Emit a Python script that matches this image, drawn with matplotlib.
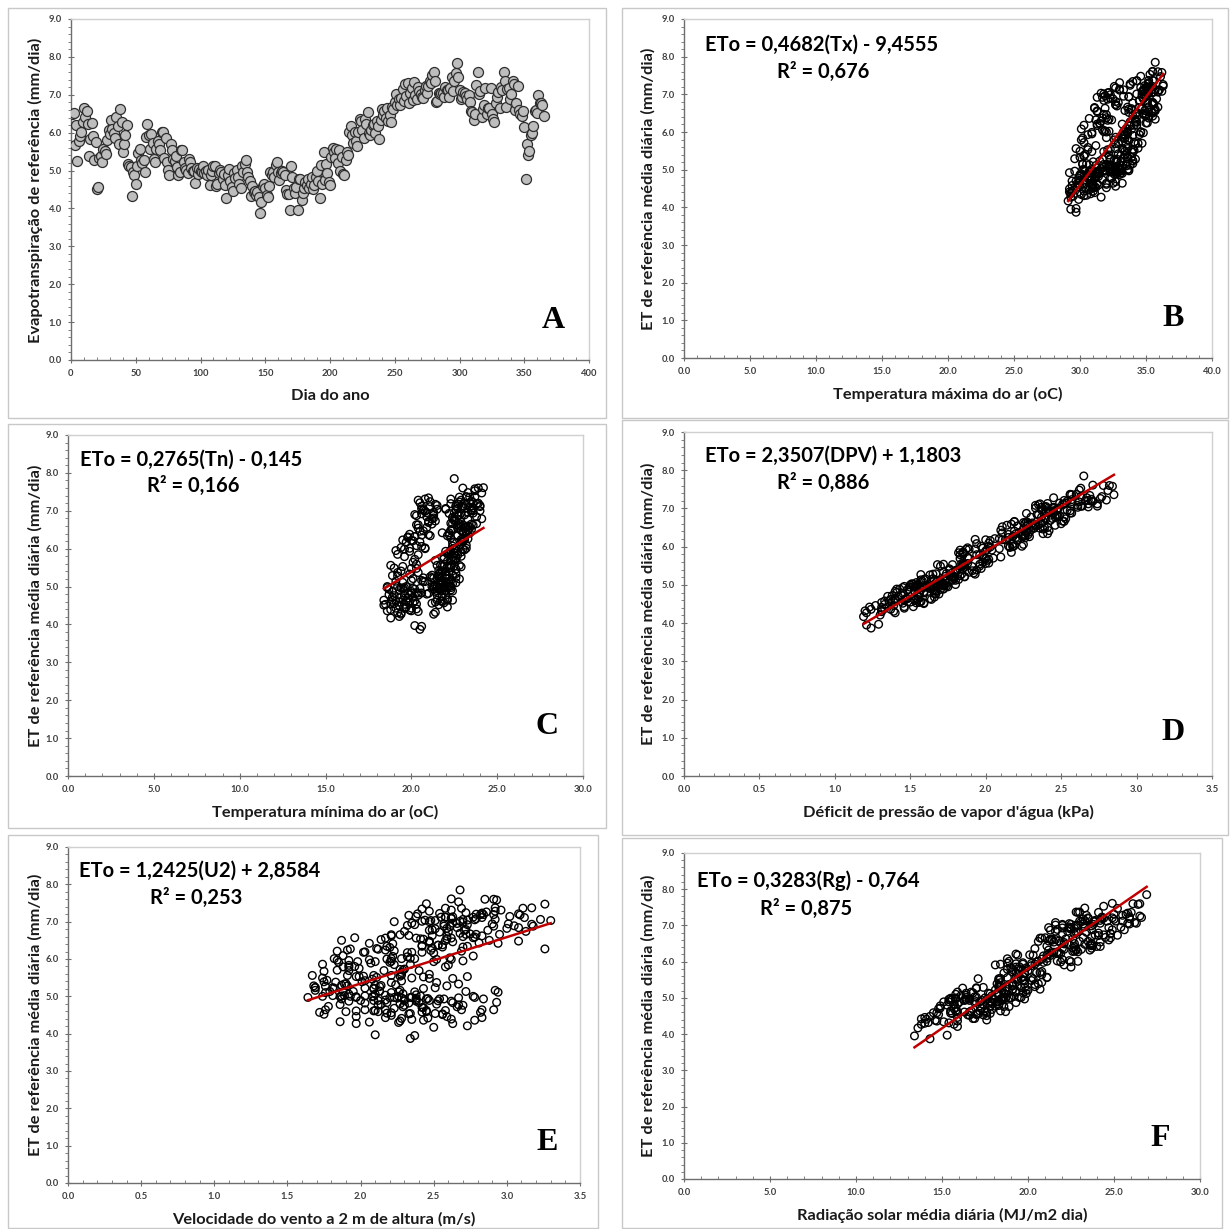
import numpy as np
import matplotlib
matplotlib.use("Agg")
import matplotlib.pyplot as plt
from matplotlib.patches import Rectangle
from matplotlib.ticker import MultipleLocator, FormatStrFormatter

plt.rcParams['font.family'] = ['Lato', 'DejaVu Sans']

# ---------------- data (daily reference evapotranspiration, mm/dia) ----------------
ETO = [
 6.50, 6.52, 5.67, 6.19, 5.24, 5.78, 5.91, 6.01, 6.28, 6.65,
 6.42, 6.57, 6.24, 5.39, 5.83, 6.26, 5.91, 5.28, 5.75, 4.52,
 4.57, 5.34, 5.39, 5.23, 5.56, 5.51, 5.43, 5.80, 6.07, 5.97,
 6.34, 6.09, 5.98, 5.86, 6.41, 6.18, 5.70, 6.62, 6.27, 5.49,
 5.69, 5.93, 6.21, 5.16, 5.13, 5.10, 4.32, 4.97, 4.89, 4.64,
 5.13, 5.46, 5.56, 5.28, 5.20, 5.27, 4.97, 5.89, 6.24, 5.93,
 5.56, 5.96, 5.73, 5.30, 5.22, 5.57, 5.79, 5.69, 5.53, 6.01,
 6.01, 5.33, 5.85, 5.22, 5.02, 4.89, 5.69, 5.53, 5.31, 5.26,
 5.38, 5.10, 4.87, 4.97, 5.54, 5.54, 5.23, 5.06, 5.01, 4.93,
 5.30, 5.22, 5.07, 4.99, 4.99, 4.68, 5.06, 4.91, 5.03, 5.00,
 4.97, 5.12, 4.94, 4.99, 4.88, 5.01, 4.61, 4.88, 5.00, 5.12,
 5.12, 4.59, 4.64, 4.93, 5.01, 4.96, 4.78, 4.90, 4.62, 4.27,
 4.89, 5.04, 4.73, 4.56, 4.46, 4.93, 4.80, 5.02, 4.82, 4.64,
 4.54, 5.13, 4.96, 5.16, 5.28, 4.95, 4.82, 4.72, 4.34, 4.59,
 4.43, 4.46, 4.36, 4.43, 4.30, 3.87, 4.17, 4.59, 4.64, 4.53,
 4.36, 4.31, 4.58, 4.95, 4.87, 4.97, 4.84, 5.14, 5.23, 4.96,
 4.76, 4.93, 5.00, 4.97, 4.87, 4.49, 4.39, 4.38, 3.97, 5.11,
 4.83, 4.55, 4.42, 4.57, 3.95, 4.79, 4.78, 4.21, 4.41, 4.53,
 4.70, 4.62, 4.77, 4.54, 4.64, 4.83, 4.51, 4.61, 4.83, 5.00,
 4.72, 4.27, 5.14, 4.64, 5.48, 4.76, 5.16, 4.93, 4.70, 4.62,
 5.37, 5.59, 5.49, 5.33, 5.56, 5.21, 5.53, 5.00, 5.37, 4.92,
 4.89, 5.29, 5.48, 5.41, 6.01, 6.18, 5.95, 5.72, 6.02, 5.79,
 5.64, 6.03, 6.36, 6.31, 6.08, 5.85, 6.37, 6.22, 6.54, 5.99,
 5.93, 6.06, 6.21, 6.23, 6.00, 6.32, 6.17, 5.84, 6.34, 6.63,
 6.46, 6.56, 6.38, 6.65, 6.32, 6.47, 6.29, 6.69, 6.63, 6.81,
 7.01, 6.73, 6.90, 6.72, 6.92, 7.14, 6.84, 7.28, 6.96, 7.31,
 6.78, 7.05, 7.17, 6.87, 7.34, 6.99, 6.88, 7.21, 7.11, 7.03,
 6.95, 6.92, 7.12, 7.24, 7.04, 7.23, 7.36, 7.31, 7.53, 7.60,
 7.37, 6.82, 6.84, 7.04, 7.03, 7.06, 7.06, 6.93, 7.20, 7.12,
 7.12, 6.94, 7.19, 7.48, 7.11, 7.36, 7.58, 7.85, 7.47, 7.12,
 6.89, 6.94, 7.08, 7.06, 6.96, 6.88, 7.00, 6.82, 6.57, 6.54,
 6.34, 6.48, 7.26, 7.61, 7.03, 7.10, 6.42, 6.62, 6.74, 7.19,
 6.48, 6.66, 6.66, 7.18, 6.50, 6.37, 6.27, 6.79, 6.94, 7.08,
 6.66, 7.21, 7.13, 7.60, 7.37, 6.67, 7.14, 7.19, 6.88, 7.01,
 7.36, 7.28, 6.60, 6.77, 7.22, 6.59, 6.49, 6.43, 6.56, 6.16,
 4.77, 5.70, 5.42, 5.52, 5.94, 5.99, 6.18, 6.56, 6.61, 6.53, 7.00, 6.77, 6.77, 6.74, 6.44,
]

# maximum air temperature (oC)
TX = [
 35.5, 33.7, 33.5, 33.7, 34.0, 33.7, 34.0, 33.6, 34.2, 34.5,
 35.0, 34.9, 35.0, 33.4, 33.4, 34.3, 33.4, 34.2, 33.2, 32.0,
 31.0, 33.6, 32.2, 34.0, 32.7, 34.1, 33.5, 33.6, 33.9, 33.6,
 35.7, 33.5, 34.8, 32.7, 34.3, 34.1, 34.7, 34.7, 34.3, 33.4,
 32.7, 34.5, 33.2, 34.0, 32.2, 33.5, 30.5, 33.1, 31.4, 33.2,
 32.0, 34.0, 33.6, 32.8, 32.8, 32.3, 33.7, 33.2, 35.1, 33.4,
 33.2, 33.6, 34.1, 32.3, 33.6, 34.4, 32.6, 34.2, 32.1, 34.6,
 33.3, 33.9, 33.3, 32.7, 32.3, 32.8, 32.9, 34.0, 33.3, 32.6,
 33.1, 32.2, 33.0, 32.7, 34.0, 32.3, 32.8, 31.8, 33.0, 32.5,
 33.6, 33.1, 32.4, 32.5, 31.9, 32.7, 32.2, 33.1, 31.6, 33.1,
 31.5, 33.8, 32.3, 32.7, 32.6, 32.3, 32.0, 31.4, 33.6, 32.2,
 33.0, 30.9, 32.5, 31.4, 33.7, 31.9, 32.3, 33.2, 31.3, 31.6,
 31.2, 33.2, 31.7, 32.7, 30.7, 32.9, 31.2, 32.9, 31.4, 32.0,
 31.1, 30.7, 30.7, 30.5, 31.7, 30.8, 30.6, 30.0, 30.1, 30.0,
 31.0, 29.5, 30.8, 30.3, 29.5, 29.7, 29.1, 31.4, 29.9, 30.4,
 29.3, 30.3, 29.4, 31.7, 30.0, 31.4, 31.2, 30.2, 31.5, 29.6,
 31.1, 30.7, 30.9, 30.4, 30.5, 29.2, 31.1, 29.3, 29.7, 31.2,
 30.3, 30.2, 29.4, 30.9, 29.3, 30.7, 29.9, 29.9, 29.2, 31.2,
 29.7, 30.9, 30.8, 29.8, 30.2, 30.0, 31.0, 30.3, 30.8, 30.2,
 30.8, 29.3, 31.8, 29.8, 31.8, 30.9, 30.2, 31.2, 29.4, 30.9,
 30.3, 30.6, 30.0, 30.0, 29.7, 31.0, 30.6, 30.3, 30.3, 29.2,
 30.1, 29.6, 30.9, 30.4, 31.8, 30.3, 30.9, 30.3, 32.2, 30.1,
 31.2, 31.9, 30.7, 32.1, 30.1, 32.0, 31.7, 31.5, 31.3, 30.9,
 30.6, 31.7, 31.3, 31.5, 32.0, 31.2, 31.3, 30.2, 32.2, 31.9,
 32.0, 31.3, 32.0, 31.1, 32.4, 31.8, 31.6, 32.8, 31.1, 32.7,
 31.8, 32.7, 32.3, 32.7, 31.3, 33.0, 31.8, 33.8, 31.9, 33.0,
 32.9, 32.2, 32.7, 32.1, 34.0, 32.3, 32.5, 32.6, 33.0, 31.6,
 33.3, 31.7, 33.3, 33.8, 32.1, 34.9, 34.3, 35.2, 35.3, 35.5,
 35.2, 34.5, 34.5, 35.4, 35.2, 35.2, 35.9, 33.7, 35.3, 34.8,
 35.7, 35.0, 35.0, 34.6, 36.0, 34.3, 36.2, 35.7, 36.1, 36.0,
 34.8, 34.7, 34.7, 35.6, 35.0, 34.8, 34.7, 35.1, 33.4, 35.4,
 34.2, 34.2, 36.3, 35.5, 35.1, 34.8, 35.5, 33.9, 35.5, 35.2,
 35.0, 33.6, 35.9, 34.6, 34.3, 35.2, 33.8, 35.5, 33.7, 36.2,
 34.7, 35.5, 34.9, 35.9, 35.5, 35.2, 35.2, 35.1, 35.8, 34.3,
 35.6, 35.2, 35.7, 34.0, 36.3, 33.9, 34.8, 34.0, 35.7, 33.8,
 32.4, 34.4, 32.9, 33.3, 33.3, 34.6, 34.3, 35.6, 33.7, 35.2, 35.0, 35.5, 35.1, 35.6, 34.9,
]

# minimum air temperature (oC)
TN = [
 23.3, 22.4, 22.1, 23.0, 22.6, 21.9, 22.9, 23.2, 22.3, 23.5,
 22.2, 23.1, 22.9, 22.0, 22.7, 23.3, 22.3, 21.8, 22.6, 21.6,
 21.9, 22.6, 22.2, 21.7, 22.8, 22.3, 21.6, 22.9, 22.4, 23.1,
 22.7, 23.2, 22.5, 22.1, 23.4, 22.9, 22.4, 23.6, 23.0, 22.2,
 22.5, 22.0, 23.0, 22.3, 21.7, 22.6, 21.4, 22.1, 21.8, 22.4,
 22.0, 22.6, 22.3, 21.6, 22.8, 22.1, 21.9, 22.5, 23.1, 22.7,
 21.5, 22.3, 21.9, 21.2, 22.0, 21.7, 22.4, 21.4, 22.1, 22.6,
 22.5, 21.6, 22.2, 21.3, 22.0, 21.5, 22.3, 21.8, 22.4, 21.1,
 21.7, 22.1, 21.4, 22.3, 21.9, 22.5, 21.2, 21.8, 22.2, 21.6,
 22.0, 21.5, 22.4, 21.8, 21.3, 22.1, 21.7, 22.3, 21.4, 21.9,
 21.6, 22.2, 21.3, 21.9, 22.0, 21.5, 21.8, 22.4, 21.2, 21.7,
 21.8, 21.4, 22.1, 21.6, 22.3, 21.9, 21.5, 22.0, 21.7, 21.3,
 22.0, 21.4, 21.8, 21.2, 22.1, 21.6, 20.9, 21.3, 21.0, 21.5,
 20.3, 20.8, 19.5, 20.6, 19.2, 20.1, 19.8, 18.9, 20.4, 19.3,
 19.1, 19.7, 18.6, 20.0, 19.4, 20.5, 18.8, 19.9, 18.4, 19.6,
 20.0, 19.2, 19.8, 20.5, 18.9, 19.6, 20.3, 19.1, 20.7, 19.4,
 19.0, 20.2, 19.7, 18.6, 20.0, 19.3, 18.8, 19.9, 20.2, 19.5,
 20.4, 19.0, 19.6, 20.1, 20.6, 18.7, 19.9, 19.3, 20.3, 18.5,
 19.8, 19.1, 20.4, 18.8, 19.5, 20.0, 18.4, 19.7, 20.6, 19.2,
 20.1, 19.4, 20.7, 18.9, 20.3, 19.6, 20.0, 18.7, 19.3, 20.2,
 19.2, 20.3, 19.0, 19.9, 18.8, 20.1, 19.5, 18.6, 20.4, 19.3,
 19.6, 18.9, 20.0, 19.4, 19.9, 20.5, 19.1, 20.2, 20.8, 19.6,
 20.1, 19.4, 20.6, 19.8, 20.3, 19.2, 21.0, 20.0, 20.4, 19.6,
 19.9, 20.6, 20.1, 19.5, 20.8, 20.2, 19.7, 20.4, 21.1, 20.3,
 20.5, 20.9, 19.9, 21.2, 20.2, 20.7, 19.8, 21.0, 20.4, 21.3,
 20.7, 21.4, 20.2, 21.0, 20.6, 21.5, 20.9, 20.4, 21.3, 20.8,
 21.2, 20.6, 21.4, 20.3, 21.0, 20.8, 21.3, 20.5, 21.1, 20.7,
 20.9, 21.3, 20.6, 21.1, 21.5, 22.8, 23.4, 22.3, 23.7, 23.0,
 23.2, 22.4, 23.8, 22.0, 23.5, 22.7, 23.1, 22.2, 23.9, 22.6,
 22.9, 23.6, 22.3, 23.3, 24.0, 22.8, 23.7, 22.5, 24.1, 23.0,
 23.1, 22.5, 23.6, 22.0, 23.3, 22.8, 24.0, 22.4, 23.2, 22.7,
 22.1, 22.9, 23.5, 24.2, 22.6, 23.4, 21.8, 23.0, 22.5, 23.8,
 23.3, 22.4, 23.8, 22.7, 23.5, 22.2, 23.1, 24.1, 22.9, 23.6,
 22.8, 23.4, 22.6, 23.9, 23.2, 22.3, 24.0, 23.1, 22.7, 23.5,
 23.7, 22.9, 23.3, 22.5, 23.6, 22.9, 22.3, 23.2, 22.8, 22.4,
 22.0, 22.6, 21.8, 22.9, 22.3, 23.0, 22.5, 23.4, 22.7, 23.1, 23.6, 22.8, 23.3, 22.6, 23.0,
]

# vapour pressure deficit (kPa)
DPV = [
 2.41, 2.11, 2.02, 1.93, 1.83, 1.96, 2.04, 2.02, 2.24, 2.19,
 2.27, 2.33, 2.15, 1.94, 1.85, 2.29, 1.83, 1.93, 1.98, 1.45,
 1.39, 1.72, 1.76, 1.78, 1.88, 1.85, 1.97, 1.85, 2.18, 1.88,
 2.38, 2.02, 2.16, 1.85, 2.19, 2.11, 1.99, 2.31, 2.18, 1.96,
 1.89, 2.01, 2.09, 1.79, 1.70, 1.70, 1.20, 1.68, 1.43, 1.63,
 1.66, 1.86, 2.00, 1.65, 1.79, 1.57, 1.74, 2.00, 2.20, 1.87,
 1.85, 1.98, 2.10, 1.74, 1.73, 2.02, 1.83, 2.00, 1.68, 2.24,
 1.97, 1.89, 1.85, 1.77, 1.52, 1.72, 1.83, 1.85, 1.92, 1.63,
 1.80, 1.58, 1.66, 1.63, 1.96, 1.72, 1.76, 1.54, 1.71, 1.59,
 1.77, 1.86, 1.57, 1.61, 1.55, 1.66, 1.67, 1.63, 1.51, 1.68,
 1.54, 1.78, 1.50, 1.65, 1.70, 1.55, 1.46, 1.49, 1.72, 1.68,
 1.80, 1.36, 1.47, 1.45, 1.80, 1.52, 1.56, 1.72, 1.37, 1.40,
 1.41, 1.74, 1.44, 1.57, 1.27, 1.65, 1.41, 1.70, 1.50, 1.48,
 1.56, 1.57, 1.63, 1.60, 1.84, 1.53, 1.59, 1.38, 1.31, 1.40,
 1.52, 1.39, 1.37, 1.46, 1.31, 1.24, 1.19, 1.53, 1.48, 1.54,
 1.24, 1.39, 1.33, 1.75, 1.48, 1.72, 1.67, 1.59, 1.79, 1.46,
 1.69, 1.54, 1.68, 1.54, 1.57, 1.33, 1.46, 1.33, 1.29, 1.73,
 1.53, 1.50, 1.23, 1.57, 1.21, 1.59, 1.45, 1.30, 1.31, 1.59,
 1.42, 1.55, 1.66, 1.31, 1.54, 1.40, 1.59, 1.40, 1.67, 1.50,
 1.55, 1.21, 1.82, 1.40, 1.84, 1.67, 1.65, 1.62, 1.35, 1.64,
 1.81, 1.98, 1.70, 1.80, 1.84, 1.86, 1.78, 1.73, 1.91, 1.57,
 1.64, 1.67, 1.91, 1.83, 2.18, 2.00, 2.09, 1.88, 2.15, 1.94,
 2.01, 2.19, 2.11, 2.28, 1.94, 2.17, 2.22, 2.21, 2.21, 2.03,
 1.89, 2.25, 2.06, 2.26, 2.18, 2.15, 2.21, 1.82, 2.41, 2.25,
 2.38, 2.14, 2.29, 2.27, 2.26, 2.25, 2.26, 2.43, 2.28, 2.49,
 2.33, 2.53, 2.45, 2.40, 2.40, 2.49, 2.35, 2.67, 2.47, 2.63,
 2.52, 2.40, 2.62, 2.27, 2.69, 2.48, 2.45, 2.52, 2.51, 2.45,
 2.54, 2.42, 2.57, 2.70, 2.39, 2.57, 2.56, 2.77, 2.63, 2.78,
 2.56, 2.47, 2.34, 2.68, 2.37, 2.64, 2.63, 2.43, 2.66, 2.36,
 2.74, 2.45, 2.71, 2.62, 2.52, 2.57, 2.84, 2.65, 2.81, 2.68,
 2.40, 2.56, 2.33, 2.74, 2.37, 2.57, 2.45, 2.46, 2.28, 2.33,
 2.20, 2.36, 2.76, 2.71, 2.61, 2.35, 2.42, 2.37, 2.39, 2.54,
 2.32, 2.19, 2.52, 2.57, 2.39, 2.27, 2.18, 2.48, 2.40, 2.61,
 2.38, 2.68, 2.41, 2.82, 2.60, 2.51, 2.53, 2.70, 2.56, 2.48,
 2.85, 2.45, 2.50, 2.30, 2.80, 2.17, 2.32, 2.10, 2.46, 2.03,
 1.56, 2.05, 1.76, 1.86, 1.93, 2.16, 2.13, 2.35, 2.26, 2.27, 2.41, 2.46, 2.37, 2.44, 2.30,
]

# wind speed at 2 m (m/s)
U2 = [
 1.87, 2.14, 1.75, 2.03, 1.69, 1.92, 2.20, 1.82, 2.11, 2.21,
 2.06, 1.96, 2.17, 1.75, 1.92, 2.12, 1.85, 1.68, 1.99, 1.75,
 1.72, 1.90, 2.01, 1.69, 1.91, 2.11, 1.77, 1.96, 2.22, 1.84,
 2.18, 1.88, 2.06, 1.74, 2.22, 2.02, 1.84, 2.21, 1.93, 1.74,
 1.92, 2.10, 1.84, 1.69, 1.95, 1.76, 1.86, 1.64, 2.00, 1.76,
 1.79, 2.08, 1.67, 1.91, 2.09, 1.76, 1.97, 2.07, 1.91, 1.98,
 2.21, 1.92, 2.30, 1.87, 2.09, 2.28, 1.88, 2.16, 1.99, 2.28,
 2.37, 1.89, 2.23, 2.03, 1.81, 2.12, 2.40, 1.97, 2.24, 2.13,
 1.83, 2.21, 1.92, 2.35, 2.02, 2.27, 1.81, 2.10, 2.41, 1.87,
 2.10, 1.82, 2.29, 2.08, 1.86, 2.23, 1.92, 2.38, 2.17, 1.74,
 2.23, 1.88, 2.46, 1.97, 2.30, 1.87, 2.09, 2.53, 1.93, 2.26,
 2.37, 1.90, 2.17, 2.54, 2.03, 2.28, 1.86, 2.17, 2.45, 1.97,
 2.09, 2.38, 1.78, 2.21, 1.97, 2.45, 2.27, 1.89, 2.33, 2.03,
 2.51, 2.72, 2.20, 2.92, 2.59, 2.38, 2.03, 2.66, 2.27, 2.45,
 2.17, 2.59, 2.43, 2.83, 2.26, 2.34, 2.50, 2.12, 2.69, 2.33,
 2.78, 2.06, 2.42, 2.25, 2.62, 2.34, 2.93, 2.13, 2.51, 2.67,
 2.30, 2.57, 2.09, 2.78, 2.38, 2.21, 2.62, 2.35, 2.10, 2.94,
 2.63, 2.18, 2.46, 2.82, 2.37, 2.52, 2.14, 2.73, 2.28, 2.56,
 2.42, 2.10, 2.67, 2.34, 2.83, 2.18, 2.56, 1.97, 2.40, 2.77,
 2.29, 2.63, 2.13, 2.91, 2.47, 2.70, 2.27, 2.84, 2.43, 2.58,
 2.21, 2.47, 2.35, 2.67, 2.09, 2.43, 2.73, 2.26, 2.52, 2.30,
 2.47, 2.14, 2.63, 2.28, 2.21, 2.42, 2.70, 2.27, 2.34, 2.58,
 2.28, 2.61, 2.42, 2.20, 2.77, 2.34, 2.53, 2.23, 2.41, 2.62,
 2.50, 2.32, 2.69, 2.48, 2.18, 2.56, 2.32, 2.60, 2.42, 2.49,
 2.63, 2.38, 2.56, 2.27, 2.70, 2.47, 2.49, 2.68, 2.33, 2.51,
 2.42, 2.60, 2.32, 2.54, 2.73, 2.38, 2.66, 2.47, 2.35, 2.62,
 2.49, 2.78, 2.33, 2.61, 2.42, 2.70, 2.57, 2.39, 2.83, 2.48,
 2.66, 2.37, 2.55, 2.72, 2.44, 2.83, 2.58, 2.96, 2.67, 2.85,
 2.92, 2.59, 3.08, 2.73, 2.51, 2.92, 2.70, 3.17, 2.79, 2.58,
 2.58, 3.01, 2.82, 2.45, 3.12, 2.69, 2.93, 2.68, 3.26, 2.77,
 3.05, 2.57, 2.79, 3.23, 2.63, 2.91, 2.47, 3.00, 2.77, 2.59,
 2.73, 3.08, 2.86, 2.62, 3.30, 2.62, 2.94, 2.83, 3.13, 2.91,
 2.47, 2.95, 2.72, 3.09, 2.88, 2.53, 3.26, 2.72, 2.90, 2.62,
 2.79, 3.08, 2.63, 2.91, 3.17, 2.75, 3.02, 2.84, 3.18, 2.68,
 3.11, 2.92, 2.70, 2.87, 2.54, 2.78, 2.58, 2.81, 2.62, 2.50,
 2.12, 2.29, 2.03, 2.43, 2.21, 2.52, 2.35, 2.17, 2.59, 2.43, 2.23, 2.71, 2.47, 2.30, 2.47,
]

# mean daily solar radiation (MJ/m2 dia)
RG = [
 22.7, 21.9, 19.8, 20.1, 20.7, 19.1, 22.1, 18.9, 22.6, 20.7,
 24.0, 21.2, 21.4, 20.6, 19.9, 21.5, 18.1, 19.8, 20.0, 16.6,
 15.6, 18.3, 18.2, 19.1, 19.3, 19.4, 20.8, 19.6, 20.8, 19.7,
 22.8, 21.1, 20.9, 19.5, 22.7, 19.4, 20.7, 21.3, 22.9, 19.7,
 19.3, 20.4, 19.3, 19.3, 18.2, 18.3, 14.2, 18.4, 15.4, 18.4,
 17.7, 19.4, 21.1, 17.0, 19.3, 16.2, 19.8, 20.2, 21.8, 18.4,
 20.2, 18.8, 20.8, 18.3, 18.5, 21.1, 19.4, 19.8, 17.1, 22.9,
 20.6, 19.1, 19.3, 18.1, 17.0, 18.2, 18.6, 20.3, 20.4, 17.0,
 19.8, 15.8, 19.3, 16.6, 19.6, 18.4, 18.8, 16.1, 19.5, 16.3,
 18.8, 19.9, 16.4, 18.5, 15.5, 17.9, 17.9, 17.8, 16.9, 17.5,
 15.8, 19.9, 16.3, 18.7, 17.9, 16.4, 16.6, 16.0, 19.0, 17.8,
 18.6, 14.5, 17.2, 15.5, 19.6, 16.4, 17.2, 18.3, 15.9, 15.7,
 15.1, 19.2, 15.8, 17.0, 14.0, 17.3, 15.3, 18.6, 15.7, 16.7,
 17.0, 16.4, 17.6, 15.9, 19.6, 16.4, 17.4, 14.9, 15.1, 14.7,
 16.8, 15.9, 15.9, 16.9, 14.0, 14.3, 13.6, 17.6, 15.8, 16.5,
 14.7, 15.4, 15.5, 18.5, 16.9, 18.0, 17.9, 16.8, 19.1, 15.4,
 18.9, 16.6, 18.9, 15.6, 17.7, 14.3, 17.6, 14.6, 15.3, 18.7,
 15.7, 17.1, 13.8, 17.8, 13.4, 18.3, 14.9, 15.9, 14.1, 17.4,
 15.7, 17.6, 17.8, 14.8, 17.5, 15.9, 17.6, 16.3, 18.3, 15.8,
 17.3, 13.8, 19.7, 15.5, 19.8, 18.6, 16.7, 18.5, 14.8, 18.7,
 18.9, 19.7, 18.3, 18.4, 18.8, 20.0, 18.3, 18.7, 20.4, 16.9,
 17.2, 17.4, 20.2, 19.1, 21.1, 20.3, 20.2, 19.1, 21.7, 18.8,
 20.8, 22.4, 20.4, 22.8, 18.8, 22.5, 22.0, 21.9, 21.5, 20.5,
 19.7, 22.0, 21.2, 21.7, 22.5, 21.2, 21.3, 19.0, 23.1, 22.6,
 23.6, 20.6, 22.6, 20.8, 23.6, 22.4, 22.7, 23.7, 22.2, 23.4,
 21.6, 25.2, 22.5, 24.1, 22.7, 23.9, 21.6, 25.5, 23.3, 25.0,
 24.8, 22.4, 25.0, 21.3, 25.8, 23.7, 23.7, 23.5, 23.9, 22.0,
 25.4, 22.4, 24.6, 25.9, 23.2, 24.3, 22.9, 25.7, 24.4, 26.1,
 23.0, 22.9, 22.3, 25.9, 22.5, 24.2, 25.8, 22.0, 24.4, 23.0,
 25.5, 22.5, 25.9, 23.3, 23.8, 24.1, 26.4, 26.9, 25.2, 25.1,
 21.7, 24.7, 21.6, 26.3, 22.4, 24.9, 22.9, 22.8, 21.8, 24.2,
 22.1, 23.7, 26.5, 24.9, 23.8, 23.1, 24.2, 21.4, 24.4, 23.5,
 23.3, 21.0, 24.8, 23.2, 23.7, 23.7, 21.7, 24.1, 21.2, 26.2,
 23.2, 24.9, 23.3, 26.5, 22.8, 24.5, 24.2, 24.3, 25.6, 22.8,
 26.0, 23.4, 24.7, 22.7, 26.6, 21.4, 22.1, 21.1, 23.5, 20.9,
 18.1, 20.5, 18.4, 19.4, 19.3, 21.9, 21.1, 23.0, 21.6, 22.1, 22.0, 24.8, 22.0, 23.9, 23.7,
]

# regression equations shown on the panels (slope, intercept, text, R2 text)
EQ_B = (0.4682, -9.4555, "ETo = 0,4682(Tx) - 9,4555", "R² = 0,676")
EQ_C = (0.2765, -0.145, "ETo = 0,2765(Tn) - 0,145", "R² = 0,166")
EQ_D = (2.3507, 1.1803, "ETo = 2,3507(DPV) + 1,1803", "R² = 0,886")
EQ_E = (1.2425, 2.8584, "ETo = 1,2425(U2) + 2,8584", "R² = 0,253")
EQ_F = (0.3283, -0.764, "ETo = 0,3283(Rg) - 0,764", "R² = 0,875")

n = min(len(ETO), len(TX), len(TN), len(DPV), len(U2), len(RG))
eto = np.array(ETO[:n])
day = np.arange(1, n + 1)

W, H = 1230, 1229
fig = plt.figure(figsize=(W / 100, H / 100), dpi=100)
fig.patch.set_facecolor('white')


def fx(px):
    return px / W


def fy(py):
    return 1 - py / H


def frame(l, t, r, b):
    fig.add_artist(Rectangle((fx(l), fy(b)), fx(r) - fx(l), fy(t) - fy(b),
                             transform=fig.transFigure, fill=False,
                             edgecolor='#c8c8c8', lw=1.0))


def make_ax(l, t, r, b, xlim, xmaj, xmin_, xfmt):
    ax = fig.add_axes([fx(l), fy(b), fx(r) - fx(l), fy(t) - fy(b)])
    ax.set_xlim(*xlim)
    ax.set_ylim(0, 9)
    ax.xaxis.set_major_locator(MultipleLocator(xmaj))
    ax.xaxis.set_minor_locator(MultipleLocator(xmin_))
    ax.yaxis.set_major_locator(MultipleLocator(1.0))
    ax.yaxis.set_minor_locator(MultipleLocator(0.2))
    ax.xaxis.set_major_formatter(FormatStrFormatter(xfmt))
    ax.yaxis.set_major_formatter(FormatStrFormatter('%.1f'))
    for s in ['left', 'bottom']:
        ax.spines[s].set_color('#6e6e6e')
        ax.spines[s].set_linewidth(1.0)
    for s in ['top', 'right']:
        ax.spines[s].set_color('#d0d0d0')
        ax.spines[s].set_linewidth(1.0)
    ax.tick_params(which='major', direction='inout', length=5, width=0.8,
                   color='#6e6e6e', labelsize=6.8, labelcolor='#404040', pad=4)
    ax.tick_params(which='minor', direction='in', length=2.5, width=0.6, color='#6e6e6e')
    ax.tick_params(axis='y', which='minor', direction='out')
    for lab in ax.get_xticklabels() + ax.get_yticklabels():
        lab.set_fontweight('bold')
    return ax


LBL = dict(fontsize=11.8, fontweight='bold', color='#1a1a1a')
LETTER = dict(fontsize=23, fontweight='bold', family=['Liberation Serif', 'DejaVu Serif'],
              ha='center', va='center', color='black')
EQT = dict(fontsize=14.5, fontweight='bold', color='black', ha='left', va='center')

# ---------------- Panel A ----------------
frame(8, 8, 606, 418)
axA = make_ax(71, 19, 589, 360, (0, 400), 50, 10, '%d')
axA.scatter(day, eto, s=52, facecolor='#bdbdbd', edgecolor='#2e2e2e', linewidths=0.9, zorder=3)
fig.text(fx(330), fy(396), 'Dia do ano', ha='center', va='center', **LBL)
fig.text(fx(35), fy(190), 'Evapotranspiração de referência (mm/dia)', rotation=90,
         ha='center', va='center', **LBL)
fig.text(fx(553), fy(320), 'A', **LETTER)

YLAB = 'ET de referência média diária (mm/dia)'


def scatter_panel(frame_box, axbox, xlim, xmaj, xmin_, xfmt, xdata, eq, xlabel,
                  eqpos, r2pos, letter, letpos, ylab_x):
    frame(*frame_box)
    ax = make_ax(*axbox, xlim, xmaj, xmin_, xfmt)
    x = np.array(xdata[:n])
    ax.scatter(x, eto, s=30, facecolor='none', edgecolor='black', linewidths=1.0, zorder=3)
    xl = np.array([x.min(), x.max()])
    ax.plot(xl, eq[0] * xl + eq[1], color='#c00000', lw=1.8, zorder=4)
    l, t, r, b = axbox
    fig.text(fx((l + r) / 2), fy(b + 36), xlabel, ha='center', va='center', **LBL)
    fig.text(fx(ylab_x), fy((t + b) / 2), YLAB, rotation=90, ha='center', va='center', **LBL)
    fig.text(fx(eqpos[0]), fy(eqpos[1]), eq[2], **EQT)
    fig.text(fx(r2pos[0]), fy(r2pos[1]), eq[3], **EQT)
    fig.text(fx(letpos[0]), fy(letpos[1]), letter, **LETTER)
    return ax


scatter_panel((622, 8, 1228, 418), (684, 19, 1212, 358), (0, 40), 5, 1, '%.1f', TX, EQ_B,
              'Temperatura máxima do ar (oC)', (705, 45), (777, 72), 'B', (1173, 318), 648)
scatter_panel((8, 424, 606, 828), (68, 435, 583, 776), (0, 30), 5, 1, '%.1f', TN, EQ_C,
              'Temperatura mínima do ar (oC)', (80, 460), (147, 486), 'C', (547, 727), 35)
scatter_panel((622, 420, 1228, 835), (684, 432, 1212, 776), (0, 3.5), 0.5, 0.1, '%.1f', DPV, EQ_D,
              "Déficit de pressão de vapor d'água (kPa)", (705, 456), (777, 483), 'D', (1173, 733), 648)
scatter_panel((8, 835, 598, 1228), (68, 847, 580, 1183), (0, 3.5), 0.5, 0.1, '%.1f', U2, EQ_E,
              'Velocidade do vento a 2 m de altura (m/s)', (79, 871), (150, 898), 'E', (547, 1143), 35)
scatter_panel((622, 838, 1222, 1228), (684, 853, 1200, 1179), (0, 30), 5, 1, '%.1f', RG, EQ_F,
              'Radiação solar média diária (MJ/m2 dia)', (697, 881), (760, 909), 'F', (1160, 1138), 648)

fig.savefig('out.png', dpi=100, facecolor='white')
